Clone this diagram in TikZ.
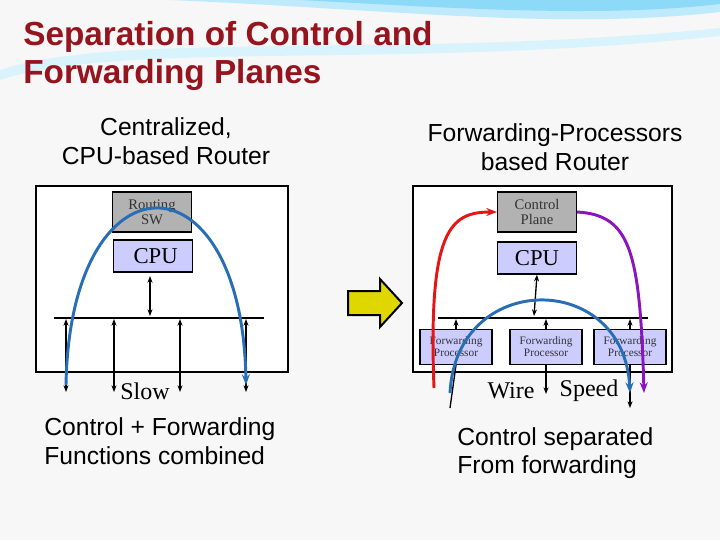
\documentclass[tikz,border=0pt]{standalone}
\usepackage{fontspec}
\setmainfont{Liberation Serif}
\setsansfont{Liberation Sans}
\usetikzlibrary{arrows.meta}
\definecolor{titlered}{RGB}{150,20,30}
\definecolor{cpublue}{RGB}{204,204,255}
\definecolor{swgray}{RGB}{178,178,178}
\definecolor{arcblue}{RGB}{40,110,180}
\definecolor{arcred}{RGB}{230,20,20}
\definecolor{arcpurple}{RGB}{140,20,190}
\definecolor{arrowyellow}{RGB}{225,215,0}
\tikzset{
  px/.style={x=0.75pt,y=-0.75pt},
  chassis/.style={draw,line width=1.2pt,fill=white},
  swbox/.style={draw,line width=1pt,fill=swgray,minimum width=59pt,minimum height=30pt,inner sep=0pt,align=center,font=\fontsize{11}{11}\selectfont,text=black!80},
  cpubox/.style={draw,line width=1pt,fill=cpublue,minimum width=59pt,minimum height=24pt,inner sep=0pt,font=\fontsize{17}{17}\selectfont},
  fpbox/.style={draw,line width=1pt,fill=cpublue,minimum width=54pt,minimum height=26pt,inner sep=0pt,align=center,font=\fontsize{8.5}{9}\selectfont,text=black!80},
  link/.style={line width=1pt,-{Stealth[length=5pt]}},
  dlink/.style={line width=1pt,{Stealth[length=5pt]}-{Stealth[length=5pt]}},
  bus/.style={line width=2.2pt},
  arc/.style={line width=2.2pt,-{Stealth[length=8pt]}},
  caption/.style={font=\sffamily\fontsize{18.5}{21.5}\selectfont,align=center},
  wordlabel/.style={font=\fontsize{18}{18}\selectfont}
}
\begin{document}
\begin{tikzpicture}[px]
\fill[black!3] (0,0) rectangle (720,540);
\useasboundingbox (0,0) rectangle (720,540);
% top swoosh
\fill[cyan!25] (170,0) .. controls (400,10) and (560,30) .. (720,12) -- (720,0) -- cycle;
\fill[cyan!45] (300,0) .. controls (450,8) and (600,18) .. (720,4) -- (720,0) -- cycle;
\fill[cyan!15] (0,80) .. controls (120,40) and (400,70) .. (720,36) -- (720,28) .. controls (400,60) and (120,30) .. (0,70) -- cycle;
% title
\node[anchor=west,font=\sffamily\bfseries\fontsize{25}{28}\selectfont,text=titlered,align=left,inner sep=0pt] (title) at (23,56) {Separation of Control and\\Forwarding Planes};
% left router
\node[caption] (lcap) at (166,141) {Centralized,\\CPU-based Router};
\draw[chassis] (36,186) rectangle (288,372);
\node[swbox] (sw) at (152,212) {Routing\\SW};
\node[cpubox,anchor=west] (lcpu) at (113,256) {\hspace{4pt}CPU\hfill};
\draw[bus] (54,318) -- (264,318);
\draw[dlink] (150,276) -- (150,316);
\foreach \x in {66,114,180,246}
  \draw[dlink] (\x,392) -- (\x,319);
\node[wordlabel] (slow) at (145,391) {Slow};
\draw[arc,arcblue] (66,385) .. controls (70,150) and (242,150) .. (246,385);
\node[caption,align=left,anchor=west,inner sep=0pt] (lfoot) at (44,441) {Control + Forwarding\\Functions combined};
% yellow arrow
\draw[line width=1.5pt,fill=arrowyellow] (348,291) -- (380,291) -- (380,279) -- (402,303) -- (380,327) -- (380,315) -- (348,315) -- cycle;
% right router
\node[caption] (rcap) at (555,147) {Forwarding-Processors\\based Router};
\draw[chassis] (413,186) rectangle (672,372);
\node[swbox] (cp) at (537,212) {Control\\Plane};
\node[cpubox] (rcpu) at (537,258) {CPU};
\draw[bus] (438,318) -- (648,318);
\draw[dlink] (rcpu.south) -- (534,316);
\foreach \n/\x in {1/456,2/546,3/630} {
  \node[fpbox] (fp\n) at (\x,347) {Forwarding\\Processor};
  \draw[link] (fp\n.north) -- (\x,319);
}
\draw[line width=1pt] (fp1.south) -- (450,408);
\draw[link] (fp2.south) -- (546,394);
\draw[link] (fp3.south) -- (630,408);
\node[wordlabel] (wire) at (511,391) {Wire};
\node[wordlabel] (speed) at (589,391) {Speed};
\draw[arc,arcblue] (450,393) .. controls (456,270) and (624,270) .. (630,393);
\draw[arc,arcred] (434,388) .. controls (428,230) and (450,212) .. (cp.west);
\draw[arc,arcpurple] (cp.east) .. controls (630,215) and (640,250) .. (644,393);
\node[caption,align=left,anchor=west,inner sep=0pt] (rfoot) at (457,453) {Control separated\\From forwarding};
\end{tikzpicture}
\end{document}
